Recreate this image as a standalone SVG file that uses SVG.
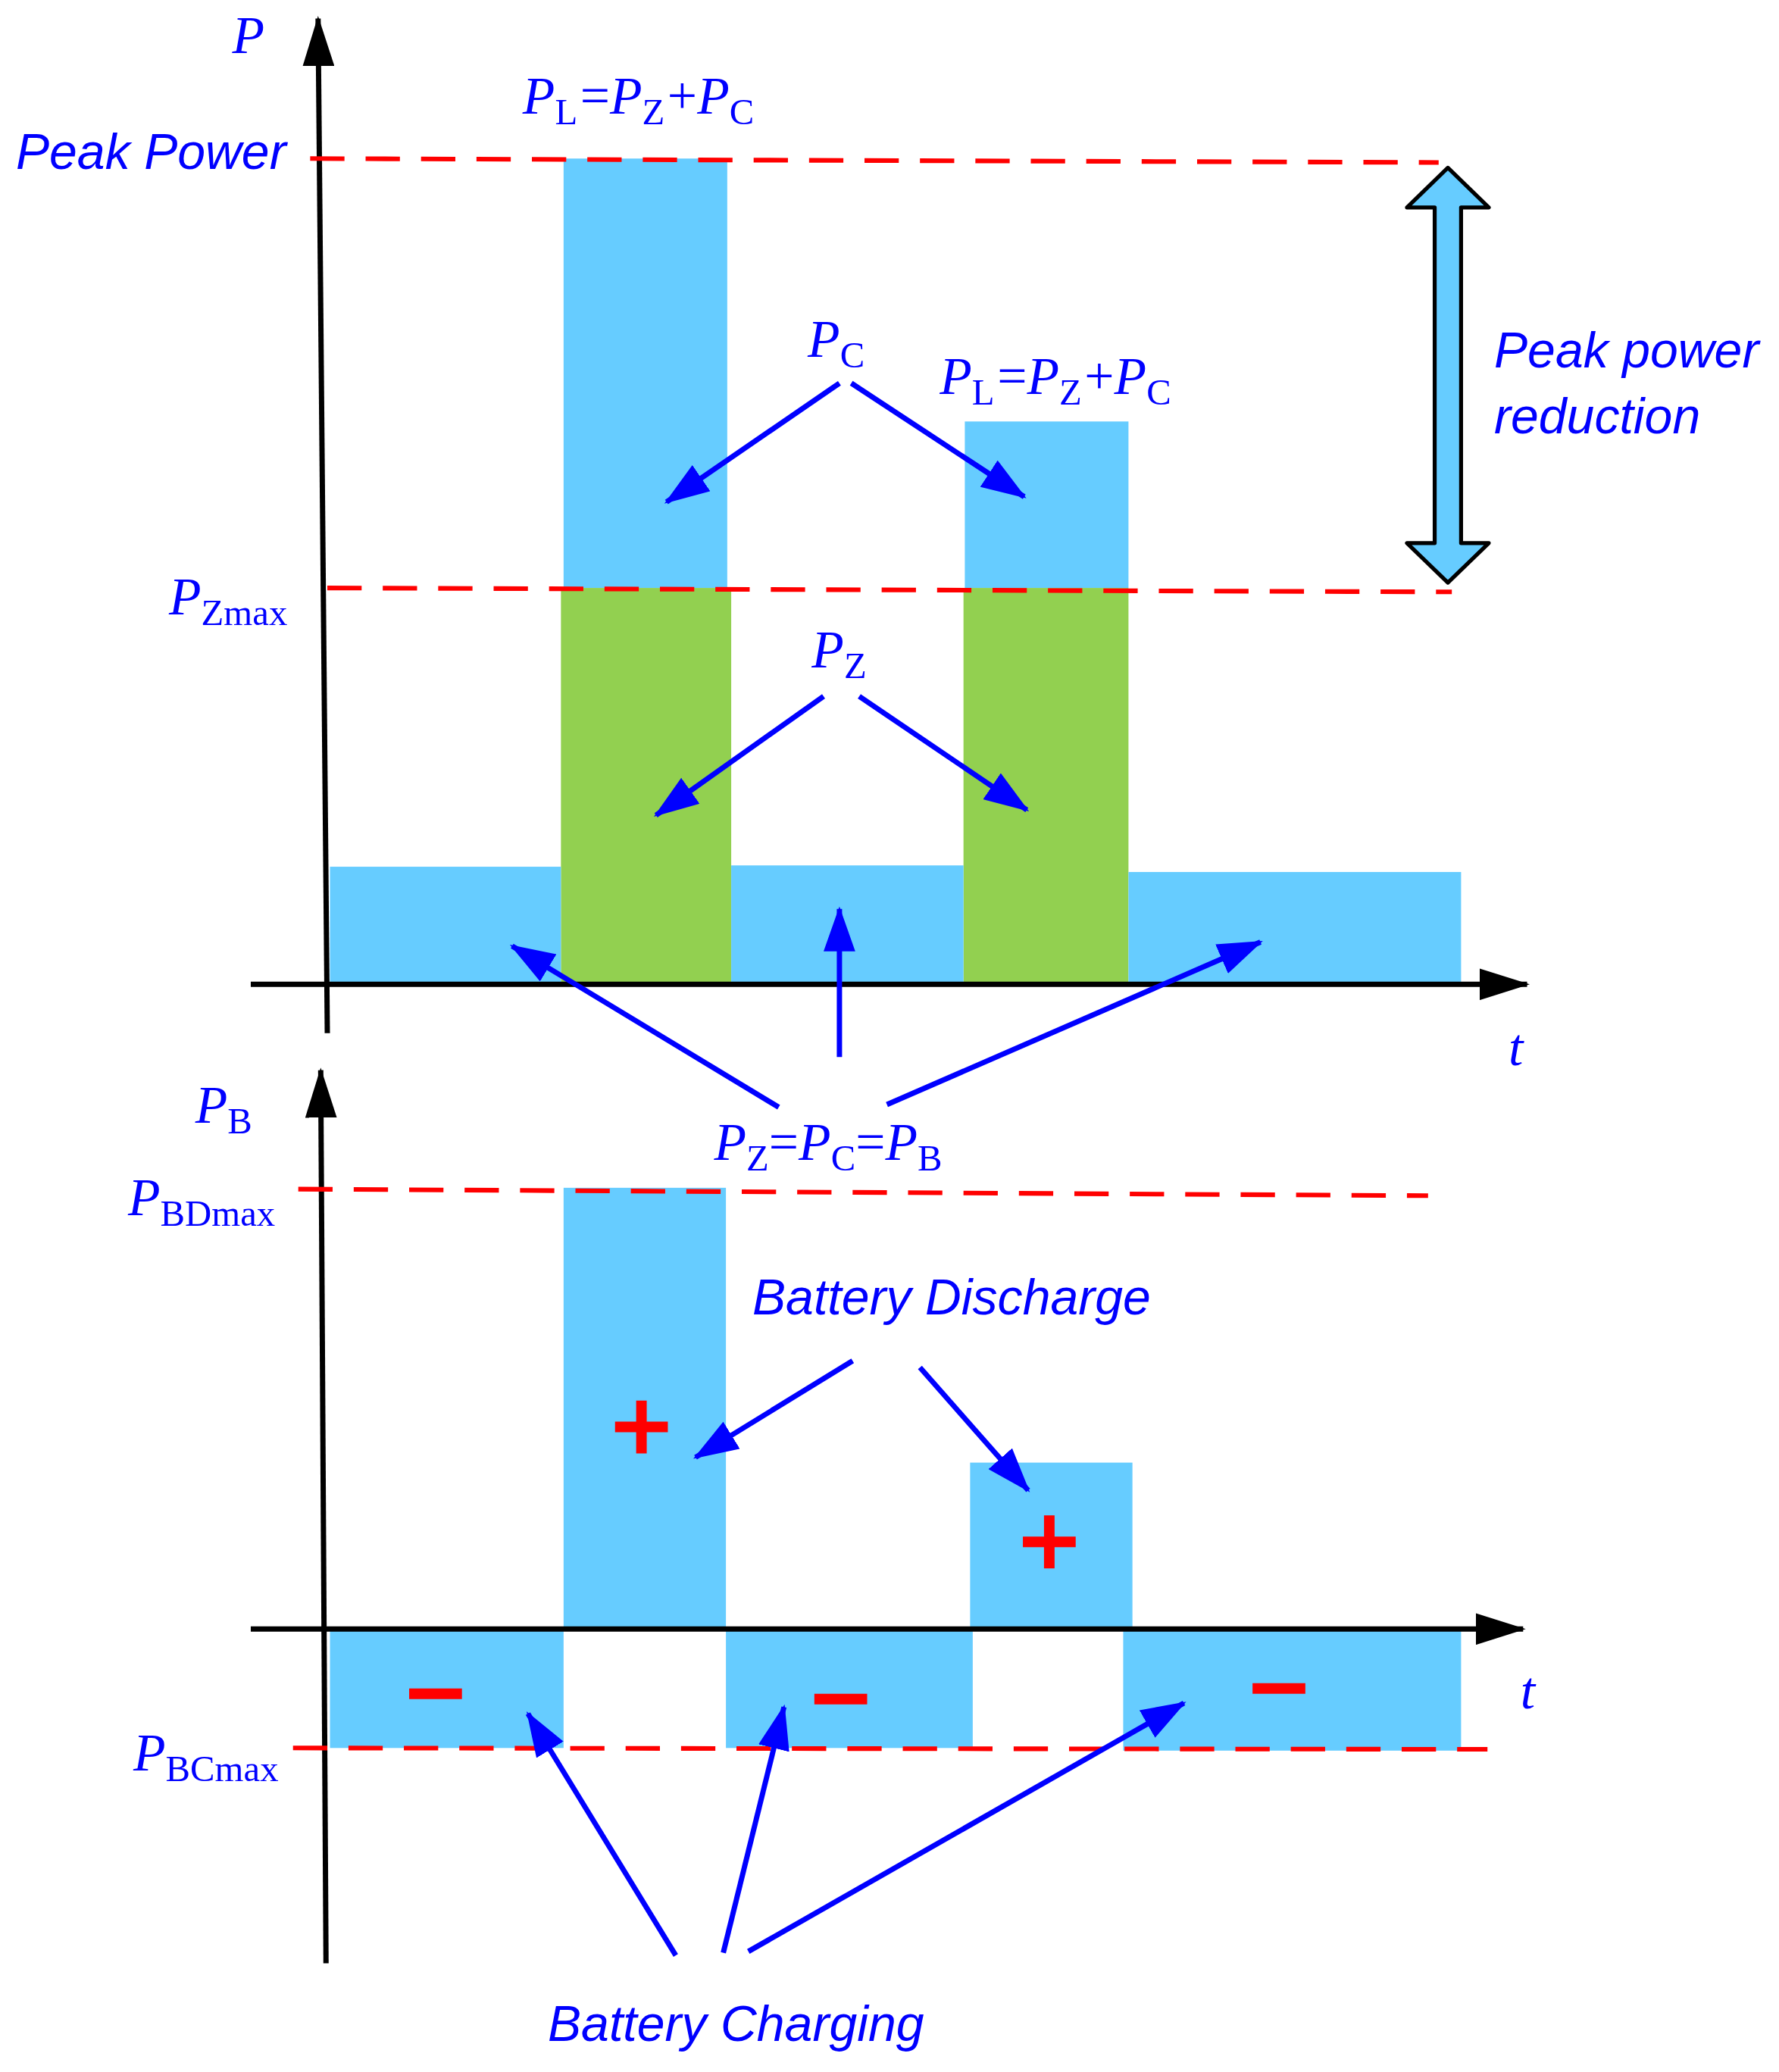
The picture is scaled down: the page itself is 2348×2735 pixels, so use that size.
<svg xmlns="http://www.w3.org/2000/svg" width="2348" height="2735" viewBox="0 0 2348 2735">
<style>
.ax{stroke:#000;stroke-width:4;fill:none}
.rd{stroke:#FF0000;stroke-width:3.5;stroke-dasharray:26 16;fill:none}
.ar{stroke:#0000FF;stroke-width:4;fill:none;marker-end:url(#ah)}
.b{fill:#66CCFF}.g{fill:#92D050}
.s{font-family:"Liberation Serif",serif;fill:#0000FF;font-size:40px}
.i{font-style:italic}
.sub{font-size:28px}
.l{font-family:"Liberation Sans",sans-serif;font-style:italic;fill:#0000FF;font-size:38px}
.pm{stroke:#FF0000;stroke-width:8;fill:none}
</style>
<defs>
<marker id="ah" markerUnits="userSpaceOnUse" markerWidth="34" markerHeight="24" refX="32" refY="12" orient="auto"><path d="M0,0 L34,12 L0,24 Z" fill="#0000FF"/></marker>
<marker id="ka" markerUnits="userSpaceOnUse" markerWidth="38" markerHeight="24" refX="36" refY="12" orient="auto"><path d="M0,0 L38,12 L0,24 Z" fill="#000"/></marker>
</defs>
<rect width="2348" height="2735" fill="#fff"/>
<g transform="scale(1.742,1.744)">
<g id="bars">
<rect class="b" x="427" y="120" width="124" height="325"/>
<rect class="g" x="425" y="445" width="129" height="300"/>
<rect class="b" x="731" y="319" width="124" height="126"/>
<rect class="g" x="730" y="445" width="125" height="300"/>
<rect class="b" x="250" y="656" width="175" height="89"/>
<rect class="b" x="554" y="655" width="176" height="90"/>
<rect class="b" x="855" y="660" width="252" height="85"/>
<rect class="b" x="427" y="899" width="123" height="334"/>
<rect class="b" x="735" y="1107" width="123" height="126"/>
<rect class="b" x="250" y="1233" width="177" height="90"/>
<rect class="b" x="550" y="1233" width="187" height="90"/>
<rect class="b" x="851" y="1233" width="256" height="92"/>
</g>
<g id="axes">
<line class="ax" x1="248" y1="782" x2="241" y2="14" marker-end="url(#ka)"/>
<line class="ax" x1="190" y1="745" x2="1157" y2="745" marker-end="url(#ka)"/>
<line class="ax" x1="247" y1="1486" x2="243" y2="810" marker-end="url(#ka)"/>
<line class="ax" x1="190" y1="1233" x2="1154" y2="1233" marker-end="url(#ka)"/>
</g>
<g id="limits">
<line class="rd" x1="235" y1="120" x2="1090" y2="123"/>
<line class="rd" x1="248" y1="445" x2="1100" y2="448"/>
<line class="rd" x1="226" y1="900" x2="1082" y2="905"/>
<line class="rd" x1="222" y1="1323" x2="1127" y2="1324"/>
</g>
<g id="reduction-arrow">
<path d="M1097,127 L1128,157 L1107,157 L1107,411 L1128,411 L1097,441 L1066,411 L1087,411 L1087,157 L1066,157 Z" fill="#66CCFF" stroke="#000" stroke-width="3" stroke-linejoin="round"/>
</g>
<g id="connectors">
<line class="ar" x1="636" y1="290" x2="505" y2="380"/>
<line class="ar" x1="645" y1="290" x2="776" y2="376"/>
<line class="ar" x1="624" y1="527" x2="497" y2="617"/>
<line class="ar" x1="651" y1="527" x2="778" y2="613"/>
<line class="ar" x1="590" y1="838" x2="388" y2="716"/>
<line class="ar" x1="636" y1="800" x2="636" y2="688"/>
<line class="ar" x1="672" y1="836" x2="955" y2="713"/>
<line class="ar" x1="646" y1="1030" x2="527" y2="1103"/>
<line class="ar" x1="697" y1="1035" x2="779" y2="1128"/>
<line class="ar" x1="512" y1="1480" x2="400" y2="1297"/>
<line class="ar" x1="548" y1="1478" x2="594" y2="1292"/>
<line class="ar" x1="567" y1="1477" x2="897" y2="1289"/>
</g>
<g id="signs">
<path class="pm" d="M466,1080 H506 M486,1060 V1100"/>
<path class="pm" d="M775,1167 H815 M795,1147 V1187"/>
<path class="pm" d="M310,1282 H350 M617,1286 H657 M949,1278 H989"/>
</g>
<g id="labels">
<text class="s i" x="176" y="40">P</text>
<text class="l" x="12" y="128">Peak Power</text>
<text class="s" x="396" y="86"><tspan class="i">P</tspan><tspan class="sub" dy="8">L</tspan><tspan dy="-8" dx="2">=</tspan><tspan class="i">P</tspan><tspan class="sub" dy="8">Z</tspan><tspan dy="-8" dx="2">+</tspan><tspan class="i">P</tspan><tspan class="sub" dy="8">C</tspan></text>
<text class="s" x="712" y="298"><tspan class="i">P</tspan><tspan class="sub" dy="8">L</tspan><tspan dy="-8" dx="2">=</tspan><tspan class="i">P</tspan><tspan class="sub" dy="8">Z</tspan><tspan dy="-8" dx="2">+</tspan><tspan class="i">P</tspan><tspan class="sub" dy="8">C</tspan></text>
<text class="s" x="612" y="270"><tspan class="i">P</tspan><tspan class="sub" dy="8">C</tspan></text>
<text class="s" x="615" y="505"><tspan class="i">P</tspan><tspan class="sub" dy="8">Z</tspan></text>
<text class="s" x="128" y="465"><tspan class="i">P</tspan><tspan class="sub" dy="8">Zmax</tspan></text>
<text class="l" x="1132" y="278">Peak power</text>
<text class="l" x="1132" y="328">reduction</text>
<text class="s i" x="1143" y="806">t</text>
<text class="s" x="148" y="850"><tspan class="i">P</tspan><tspan class="sub" dy="8">B</tspan></text>
<text class="s" x="97" y="920"><tspan class="i">P</tspan><tspan class="sub" dy="8">BDmax</tspan></text>
<text class="s" x="541" y="878"><tspan class="i">P</tspan><tspan class="sub" dy="8">Z</tspan><tspan dy="-8">=</tspan><tspan class="i">P</tspan><tspan class="sub" dy="8">C</tspan><tspan dy="-8">=</tspan><tspan class="i">P</tspan><tspan class="sub" dy="8">B</tspan></text>
<text class="l" x="570" y="995">Battery Discharge</text>
<text class="s i" x="1152" y="1293">t</text>
<text class="s" x="101" y="1340"><tspan class="i">P</tspan><tspan class="sub" dy="8">BCmax</tspan></text>
<text class="l" x="415" y="1545">Battery Charging</text>
</g>
</g>
</svg>
